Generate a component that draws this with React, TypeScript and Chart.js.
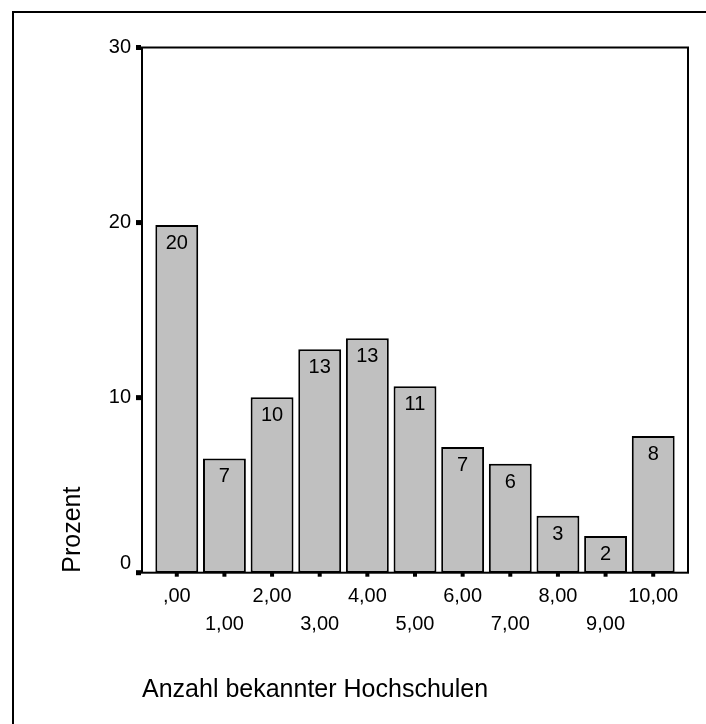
import React, { useEffect, useRef } from "react";
import { Chart, registerables } from "chart.js";

Chart.register(...registerables);

const categories = [",00", "1,00", "2,00", "3,00", "4,00", "5,00", "6,00", "7,00", "8,00", "9,00", "10,00"];
const percent = [19.86, 6.53, 10.02, 12.76, 13.39, 10.65, 7.18, 6.23, 3.26, 2.1, 7.81];
const yTicks = [0, 10, 20, 30];
const xTitle = "Anzahl bekannter Hochschulen";
const yTitle = "Prozent";

const FONT = "'Liberation Sans', Arial, sans-serif";
const W = 706;
const H = 724;

const framePlugin = {
  id: "frame",
  afterDatasetsDraw(chart: any) {
    const { ctx } = chart;
    const meta = chart.getDatasetMeta(0);
    ctx.save();
    ctx.fillStyle = "#000";
    ctx.font = `20px ${FONT}`;
    ctx.textAlign = "center";
    ctx.textBaseline = "middle";
    meta.data.forEach((bar: any, i: number) => {
      ctx.fillText(String(Math.round(percent[i])), bar.x, bar.y + 18.5);
    });
    ctx.restore();
  },
  afterDraw(chart: any) {
    const { ctx, chartArea: a, scales } = chart;
    ctx.save();
    ctx.strokeStyle = "#000";
    ctx.fillStyle = "#000";
    ctx.lineWidth = 2;
    ctx.beginPath();
    ctx.moveTo(13, chart.height + 5);
    ctx.lineTo(13, 12);
    ctx.lineTo(chart.width + 5, 12);
    ctx.stroke();
    ctx.strokeRect(a.left, a.top, a.right - a.left, a.bottom - a.top);
    scales.y.ticks.forEach((t: any) => {
      const py = scales.y.getPixelForValue(t.value);
      ctx.fillRect(a.left - 6, py - 2.5, 5, 5);
    });
    scales.x.ticks.forEach((t: any) => {
      const px = scales.x.getPixelForValue(t.value);
      ctx.fillRect(px - 2, a.bottom, 4, 4);
    });
    ctx.restore();
  },
};

export default function App() {
  const ref = useRef<HTMLCanvasElement>(null);
  useEffect(() => {
    if (!ref.current) return;
    const chart = new Chart(ref.current, {
      type: "bar",
      data: {
        datasets: [
          {
            data: percent.map((v, i) => ({ x: i, y: v })),
            backgroundColor: "#c0c0c0",
            borderColor: "#000",
            borderWidth: 2,
            borderSkipped: false,
            barPercentage: 0.9,
            categoryPercentage: 1.0,
          },
        ],
      },
      plugins: [framePlugin],
      options: {
        responsive: false,
        animation: false,
        events: [],
        layout: { padding: { left: 0, top: 47.5, right: 18, bottom: 0 } },
        plugins: { legend: { display: false }, tooltip: { enabled: false } },
        scales: {
          x: {
            type: "linear",
            offset: false,
            min: -0.73,
            max: 10.73,
            grid: { display: false, drawTicks: false, offset: false },
            border: { display: false },
            afterFit: (s: any) => {
              s.height = H - 572.7;
            },
            afterBuildTicks: (s: any) => {
              s.ticks = categories.map((_, i) => ({ value: i }));
            },
            ticks: {
              autoSkip: false,
              maxRotation: 0,
              minRotation: 0,
              padding: 10,
              color: "#000",
              font: { family: FONT, size: 20, lineHeight: "28px" },
              callback: (v: any) => {
                const i = Math.round(Number(v));
                return i % 2 === 0 ? categories[i] : ["", categories[i]];
              },
            },
            title: {
              display: true,
              text: xTitle,
              align: "start",
              color: "#000",
              font: { family: FONT, size: 25 },
              padding: { top: 0, bottom: 18.5 },
            },
          },
          y: {
            min: 0,
            max: 30,
            grid: { display: false, drawTicks: false },
            border: { display: false },
            afterFit: (s: any) => {
              s.width = 142;
            },
            afterBuildTicks: (s: any) => {
              s.ticks = yTicks.map((v) => ({ value: v }));
            },
            ticks: {
              padding: 11,
              color: "#000",
              font: { family: FONT, size: 20, lineHeight: "19px" },
              callback: (v: any) => (Number(v) === 0 ? ["0", ""] : String(v)),
            },
            title: {
              display: true,
              text: yTitle,
              align: "start",
              color: "#000",
              font: { family: FONT, size: 25 },
              padding: { top: 58, bottom: 0 },
            },
          },
        },
      },
    } as any);
    return () => chart.destroy();
  }, []);
  return (
    <div style={{ position: "fixed", left: 0, top: 0, width: W, height: H, background: "#fff" }}>
      <canvas ref={ref} width={W} height={H} style={{ display: "block" }} />
    </div>
  );
}
